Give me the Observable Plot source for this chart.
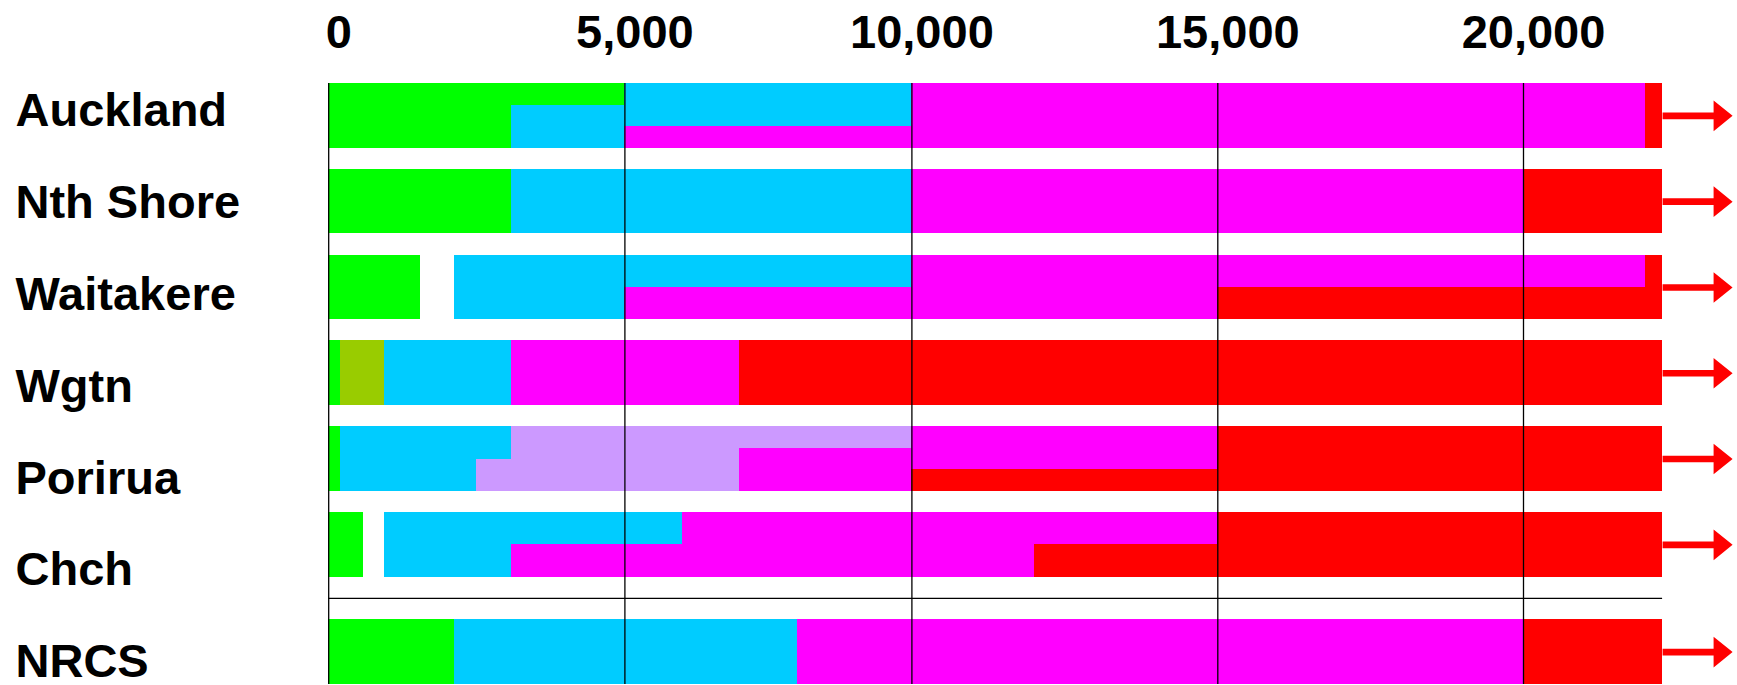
<!DOCTYPE html>
<html>
<head>
<meta charset="utf-8">
<script src="https://cdn.jsdelivr.net/npm/d3@7"></script>
<script src="https://cdn.jsdelivr.net/npm/@observablehq/plot@0.6"></script>
<style>
  html, body { margin: 0; padding: 0; background: #ffffff; }
  #chart { width: 1737px; height: 685px; }
</style>
</head>
<body>
<div id="chart"></div>
<script>
// ---------- data ----------
const cities = ["Auckland", "Nth Shore", "Waitakere", "Wgtn", "Porirua", "Chch", "NRCS"];
// class names (drawn in: bright green, yellow-green, sky blue, lilac, magenta, red)
const categories = ["Class G", "Class Y", "Class B", "Class L", "Class M", "Class R"];
const categoryColors = ["#00FF00", "#99CC00", "#00CCFF", "#CC99FF", "#FF00FF", "#FF0000"];
const tickValues = [0, 5000, 10000, 15000, 20000];

// segments per city: [class, from, to, laneStart, laneEnd]
// (lane = share of the bar's thickness, 0 = top edge, 1 = bottom edge)
const auckland = [
  ["Class G", 0, 3080, 0, 1], ["Class G", 3080, 5000, 0, 1/3], ["Class B", 3080, 5000, 1/3, 1],
  ["Class B", 5000, 10000, 0, 2/3], ["Class M", 5000, 10000, 2/3, 1],
  ["Class M", 10000, 22000, 0, 1], ["Class R", 22000, 22275, 0, 1]
];
const nthShore = [
  ["Class G", 0, 3080, 0, 1], ["Class B", 3080, 10000, 0, 1],
  ["Class M", 10000, 20000, 0, 1], ["Class R", 20000, 22275, 0, 1]
];
const waitakere = [
  ["Class G", 0, 1550, 0, 1], ["Class B", 2125, 5000, 0, 1],
  ["Class B", 5000, 10000, 0, 1/2], ["Class M", 5000, 15000, 1/2, 1],
  ["Class M", 10000, 22000, 0, 1/2], ["Class R", 15000, 22275, 1/2, 1], ["Class R", 22000, 22275, 0, 1/2]
];
const wgtn = [
  ["Class G", 0, 200, 0, 1], ["Class Y", 200, 950, 0, 1], ["Class B", 950, 3080, 0, 1],
  ["Class M", 3080, 7000, 0, 1], ["Class R", 7000, 22275, 0, 1]
];
const porirua = [
  ["Class G", 0, 200, 0, 1], ["Class B", 200, 3080, 0, 1/2], ["Class B", 200, 2500, 1/2, 1],
  ["Class L", 3080, 10000, 0, 1/3], ["Class L", 3080, 7000, 1/3, 1/2], ["Class L", 2500, 7000, 1/2, 1],
  ["Class M", 7000, 10000, 1/3, 1], ["Class M", 10000, 15000, 0, 2/3], ["Class R", 10000, 15000, 2/3, 1],
  ["Class R", 15000, 22275, 0, 1]
];
const chch = [
  ["Class G", 0, 590, 0, 1], ["Class B", 950, 3080, 0, 1], ["Class B", 3080, 6000, 0, 1/2],
  ["Class M", 3080, 12000, 1/2, 1], ["Class M", 6000, 15000, 0, 1/2], ["Class R", 12000, 15000, 1/2, 1],
  ["Class R", 15000, 22275, 0, 1]
];
const nrcs = [
  ["Class G", 0, 2130, 0, 1], ["Class B", 2130, 8000, 0, 1],
  ["Class M", 8000, 20000, 0, 1], ["Class R", 20000, 22275, 0, 1]
];
const citySegments = [auckland, nthShore, waitakere, wgtn, porirua, chch, nrcs];

// ---------- layout ----------
const barThickness = 0.754;           // in row units
const separatorAfter = 5;             // separator line between Chch and NRCS
const separatorGap = 0.25;
const rowTop = i => i + (i > separatorAfter ? separatorGap : 0);
const rowCount = cities.length;
const yMax = rowTop(rowCount - 1) + barThickness;
const separatorY = (rowTop(separatorAfter) + barThickness + rowTop(separatorAfter + 1)) / 2;

const segments = citySegments.flatMap((segs, i) =>
  segs.map(([cat, from, to, l0, l1]) => ({
    city: cities[i], cat, from, to,
    y1: rowTop(i) + l0 * barThickness,
    y2: rowTop(i) + l1 * barThickness
  }))
);
const arrows = cities.map((c, i) => ({
  city: c,
  x: d3.max(citySegments[i], s => s[2]),
  y: rowTop(i) + barThickness / 2
}));
const barEnd = d3.max(arrows, d => d.x);

// labels spread evenly from the first to the last row
const labelFirst = 0.5, labelLast = 6.92;
const labelY = i => labelFirst + i * (labelLast - labelFirst) / (rowCount - 1);

const arrowSymbol = {
  draw(ctx) {
    ctx.moveTo(0, -3.3);
    ctx.lineTo(51, -3.3);
    ctx.lineTo(51, -15.3);
    ctx.lineTo(70, 0);
    ctx.lineTo(51, 15.3);
    ctx.lineTo(51, 3.3);
    ctx.lineTo(0, 3.3);
    ctx.closePath();
  }
};

const font = "'Liberation Sans', Arial, Helvetica, sans-serif";

const chart = Plot.plot({
  width: 1737,
  height: 685,
  marginLeft: 0, marginRight: 0, marginTop: 0, marginBottom: 0,
  style: { background: "#ffffff", overflow: "visible" },
  x: { type: "linear", domain: tickValues, range: [328.2, 624.4, 911.4, 1217.3, 1523], axis: null },
  y: { type: "linear", domain: [0, 7], range: [83, 83 + 7 * 85.8], axis: null },
  color: { type: "ordinal", domain: categories, range: categoryColors },
  marks: [
    Plot.rect(segments, {
      x1: "from", x2: "to", y1: "y1", y2: "y2", fill: "cat",
      shapeRendering: "crispEdges"
    }),
    Plot.ruleX(tickValues, { y1: 0, y2: yMax, stroke: "#000", strokeWidth: 1.3 }),
    Plot.ruleY([separatorY], { x1: 0, x2: barEnd, stroke: "#000", strokeWidth: 1.3 }),
    Plot.dot(arrows, { x: "x", y: "y", symbol: arrowSymbol, fill: "#FF0000", stroke: null }),
    Plot.text(tickValues, {
      x: d => d, text: d => d3.format(",")(d),
      frameAnchor: "top", lineAnchor: "bottom", dy: 47, dx: 10,
      fontFamily: font, fontWeight: "bold", fontSize: 47, fill: "#000"
    }),
    Plot.text(cities, {
      y: (d, i) => labelY(i), text: d => d,
      frameAnchor: "left", textAnchor: "start", lineAnchor: "bottom", dx: 15,
      fontFamily: font, fontWeight: "bold", fontSize: 47, fill: "#000"
    })
  ]
});
document.getElementById("chart").appendChild(chart);
</script>
</body>
</html>
